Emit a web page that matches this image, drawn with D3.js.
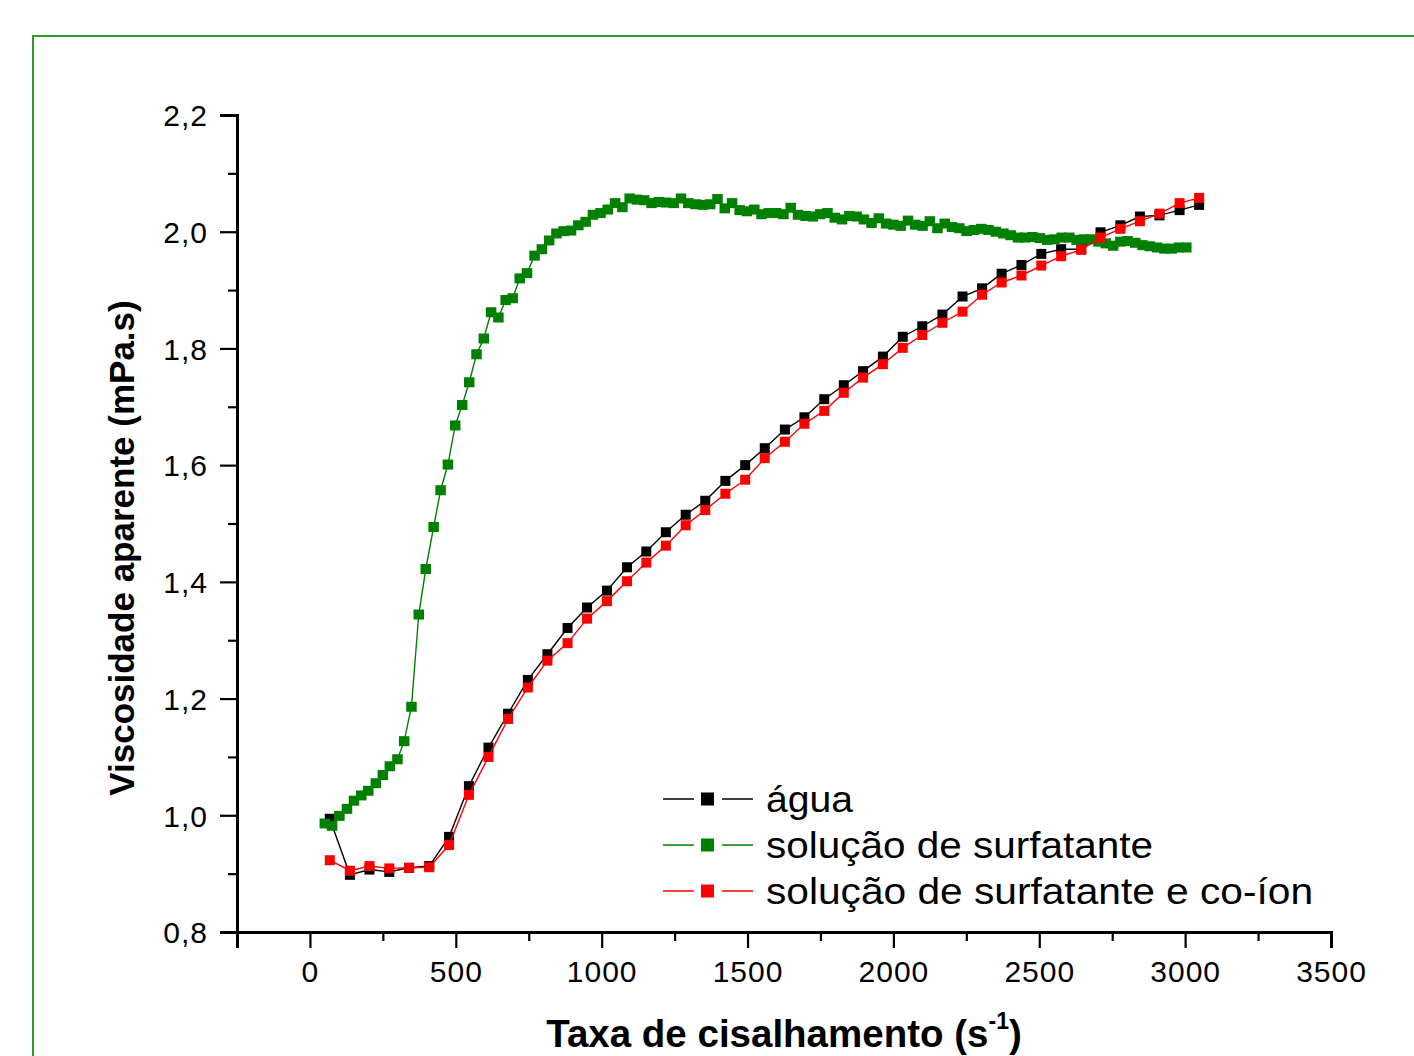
<!DOCTYPE html>
<html>
<head>
<meta charset="utf-8">
<script src="https://cdn.jsdelivr.net/npm/d3@7"></script>
<style>
  html, body { margin: 0; padding: 0; background: #fff; }
  svg { display: block; }
  text { font-family: "Liberation Sans", Arial, Helvetica, sans-serif; }
</style>
</head>
<body>
<svg id="chart" width="1414" height="1056"></svg>
<script>
// ---------------- DATA ----------------
const seriesNames = ["água", "solução de surfatante", "solução de surfatante e co-íon"];
const seriesColors = ["#000000", "#008000", "#ff0000"];

const xAgua = [68, 137, 204, 272, 340, 409, 477, 545, 612, 679, 747, 814, 883, 950, 1018, 1087, 1153, 1220, 1288, 1355, 1424, 1492, 1559, 1628, 1695, 1763, 1830, 1896, 1964, 2032, 2099, 2168, 2237, 2304, 2371, 2439, 2507, 2575, 2644, 2710, 2778, 2845, 2912, 2981, 3048];
const yAgua = [0.994, 0.898, 0.907, 0.903, 0.910, 0.913, 0.963, 1.050, 1.116, 1.174, 1.232, 1.276, 1.321, 1.356, 1.385, 1.425, 1.452, 1.485, 1.515, 1.539, 1.573, 1.600, 1.629, 1.661, 1.682, 1.713, 1.737, 1.761, 1.786, 1.820, 1.838, 1.858, 1.889, 1.903, 1.928, 1.943, 1.962, 1.970, 1.970, 1.999, 2.011, 2.026, 2.028, 2.037, 2.046];

const xCoion = [68, 137, 204, 272, 340, 409, 477, 545, 612, 679, 747, 814, 883, 950, 1018, 1087, 1153, 1220, 1288, 1355, 1424, 1492, 1559, 1628, 1695, 1763, 1830, 1896, 1964, 2032, 2099, 2168, 2237, 2304, 2371, 2439, 2507, 2575, 2644, 2710, 2778, 2845, 2912, 2981, 3048];
const yCoion = [0.923, 0.905, 0.913, 0.909, 0.910, 0.911, 0.949, 1.035, 1.100, 1.165, 1.219, 1.265, 1.295, 1.337, 1.367, 1.401, 1.433, 1.462, 1.497, 1.523, 1.551, 1.575, 1.612, 1.640, 1.671, 1.693, 1.724, 1.750, 1.773, 1.801, 1.823, 1.844, 1.863, 1.892, 1.913, 1.925, 1.942, 1.958, 1.969, 1.990, 2.005, 2.018, 2.031, 2.049, 2.058];

const xSurf = [51, 76, 101, 127, 151, 176, 200, 226, 250, 274, 300, 323, 348, 373, 397, 424, 448, 473, 498, 522, 546, 571, 596, 621, 646, 671, 695, 719, 744, 770, 795, 820, 845, 870, 895, 920, 945, 970, 996, 1021, 1046, 1071, 1096, 1121, 1146, 1171, 1196, 1221, 1247, 1272, 1297, 1322, 1347, 1372, 1397, 1422, 1447, 1473, 1498, 1523, 1548, 1573, 1598, 1623, 1648, 1673, 1699, 1724, 1749, 1774, 1799, 1824, 1849, 1874, 1899, 1925, 1950, 1975, 2000, 2025, 2050, 2075, 2100, 2125, 2151, 2176, 2201, 2226, 2251, 2276, 2301, 2326, 2351, 2377, 2402, 2427, 2452, 2477, 2502, 2527, 2552, 2577, 2603, 2628, 2653, 2678, 2703, 2728, 2753, 2778, 2803, 2829, 2854, 2879, 2904, 2929, 2954, 2979, 3004];
const ySurf = [0.986, 0.982, 0.999, 1.011, 1.025, 1.034, 1.042, 1.055, 1.069, 1.084, 1.096, 1.127, 1.186, 1.344, 1.422, 1.494, 1.557, 1.601, 1.668, 1.703, 1.742, 1.790, 1.817, 1.862, 1.853, 1.883, 1.886, 1.920, 1.929, 1.959, 1.970, 1.985, 1.997, 2.001, 2.002, 2.011, 2.017, 2.029, 2.032, 2.038, 2.049, 2.042, 2.057, 2.055, 2.054, 2.049, 2.051, 2.050, 2.049, 2.057, 2.049, 2.047, 2.046, 2.047, 2.056, 2.040, 2.049, 2.037, 2.035, 2.038, 2.030, 2.032, 2.032, 2.030, 2.041, 2.029, 2.027, 2.026, 2.030, 2.032, 2.024, 2.021, 2.027, 2.026, 2.021, 2.015, 2.023, 2.014, 2.012, 2.010, 2.019, 2.012, 2.010, 2.018, 2.006, 2.014, 2.008, 2.006, 2.001, 2.003, 2.005, 2.003, 2.000, 1.997, 1.994, 1.990, 1.990, 1.991, 1.989, 1.986, 1.987, 1.990, 1.990, 1.986, 1.987, 1.987, 1.983, 1.980, 1.976, 1.983, 1.984, 1.981, 1.977, 1.975, 1.973, 1.971, 1.971, 1.973, 1.973];

const xTickValues = [0, 500, 1000, 1500, 2000, 2500, 3000, 3500];
const xMinorTickValues = [-250, 250, 750, 1250, 1750, 2250, 2750, 3250];
const yTickValues = [0.8, 1.0, 1.2, 1.4, 1.6, 1.8, 2.0, 2.2];
const yMinorTickValues = [0.9, 1.1, 1.3, 1.5, 1.7, 1.9, 2.1];

const xTitle = "Taxa de cisalhamento (s";
const xTitleSup = "-1";
const yTitle = "Viscosidade aparente (mPa.s)";

// ---------------- CHART ----------------
const svg = d3.select("#chart");

// green frame
svg.append("rect")
  .attr("x", 33).attr("y", 36).attr("width", 1400).attr("height", 1040)
  .attr("fill", "none").attr("stroke", "#2f9a2f").attr("stroke-width", 2);

const x = d3.scaleLinear().domain([-250, 3500]).range([237, 1331]);
const y = d3.scaleLinear().domain([0.8, 2.2]).range([932, 115]);

const locale = d3.formatLocale({decimal: ",", thousands: ".", grouping: [3], currency: ["", ""]});
const fmtY = locale.format(".1f");

// Axes
const gx = svg.append("g").attr("transform", "translate(0,932)");
gx.call(d3.axisBottom(x).tickValues(xTickValues).tickSize(16).tickPadding(13).tickFormat(d3.format("d")));
const gxm = svg.append("g").attr("transform", "translate(0,932)");
gxm.call(d3.axisBottom(x).tickValues(xMinorTickValues).tickSize(9).tickFormat(""));

const gy = svg.append("g").attr("transform", "translate(237,0)");
gy.call(d3.axisLeft(y).tickValues(yTickValues).tickSize(17).tickPadding(12).tickFormat(fmtY));
const gym = svg.append("g").attr("transform", "translate(237,0)");
gym.call(d3.axisLeft(y).tickValues(yMinorTickValues).tickSize(9).tickFormat(""));

[gx, gxm, gy, gym].forEach(g => {
  g.select(".domain").attr("stroke", "#000").attr("stroke-width", 3);
  g.selectAll(".tick line").attr("stroke", "#000").attr("stroke-width", 2.2);
  g.selectAll(".tick text")
    .attr("fill", "#000")
    .style("font-family", "'Liberation Sans', Arial, sans-serif")
    .style("font-size", "30px")
    .style("letter-spacing", "1px");
});
gy.selectAll(".tick text").attr("dy", "0.36em");

// Axis titles
const xt = svg.append("text")
  .attr("x", 784).attr("y", 1047)
  .attr("text-anchor", "middle")
  .style("font-weight", "bold").style("font-size", "38.5px").attr("fill", "#000");
xt.append("tspan").text(xTitle);
xt.append("tspan").attr("dy", -18).style("font-size", "23px").text(xTitleSup);
xt.append("tspan").attr("dy", 18).text(")");

svg.append("text")
  .attr("transform", "translate(134,548) rotate(-90)")
  .attr("text-anchor", "middle")
  .style("font-weight", "bold").style("font-size", "35px").attr("fill", "#000")
  .text(yTitle);

// Series
const series = [
  {name: seriesNames[0], color: seriesColors[0], xs: xAgua, ys: yAgua, w: 10, h: 10},
  {name: seriesNames[1], color: seriesColors[1], xs: xSurf, ys: ySurf, w: 10.5, h: 10},
  {name: seriesNames[2], color: seriesColors[2], xs: xCoion, ys: yCoion, w: 10, h: 10}
];

const line = d3.line().x(d => x(d[0])).y(d => y(d[1]));

series.forEach(s => {
  const pts = s.xs.map((v, i) => [v, s.ys[i]]);
  const g = svg.append("g");
  g.append("path").datum(pts)
    .attr("d", line).attr("fill", "none")
    .attr("stroke", s.color).attr("stroke-width", 1.4);
  g.selectAll("rect").data(pts).join("rect")
    .attr("x", d => x(d[0]) - s.w / 2)
    .attr("y", d => y(d[1]) - s.h / 2)
    .attr("width", s.w).attr("height", s.h)
    .attr("fill", s.color);
});

// Legend
const legendRows = [799, 845, 891];
const legendLens = [87, 387, 547];
series.forEach((s, i) => {
  const cy = legendRows[i];
  const g = svg.append("g");
  g.append("line").attr("x1", 663).attr("x2", 694).attr("y1", cy).attr("y2", cy)
    .attr("stroke", s.color).attr("stroke-width", 1.5);
  g.append("line").attr("x1", 722).attr("x2", 753).attr("y1", cy).attr("y2", cy)
    .attr("stroke", s.color).attr("stroke-width", 1.5);
  g.append("rect").attr("x", 701).attr("y", cy - 6.5).attr("width", 13).attr("height", 13)
    .attr("fill", s.color);
  g.append("text").attr("x", 766).attr("y", cy + 13)
    .style("font-size", "36px").attr("fill", "#000")
    .attr("textLength", legendLens[i]).attr("lengthAdjust", "spacingAndGlyphs")
    .text(s.name);
});
</script>
</body>
</html>
